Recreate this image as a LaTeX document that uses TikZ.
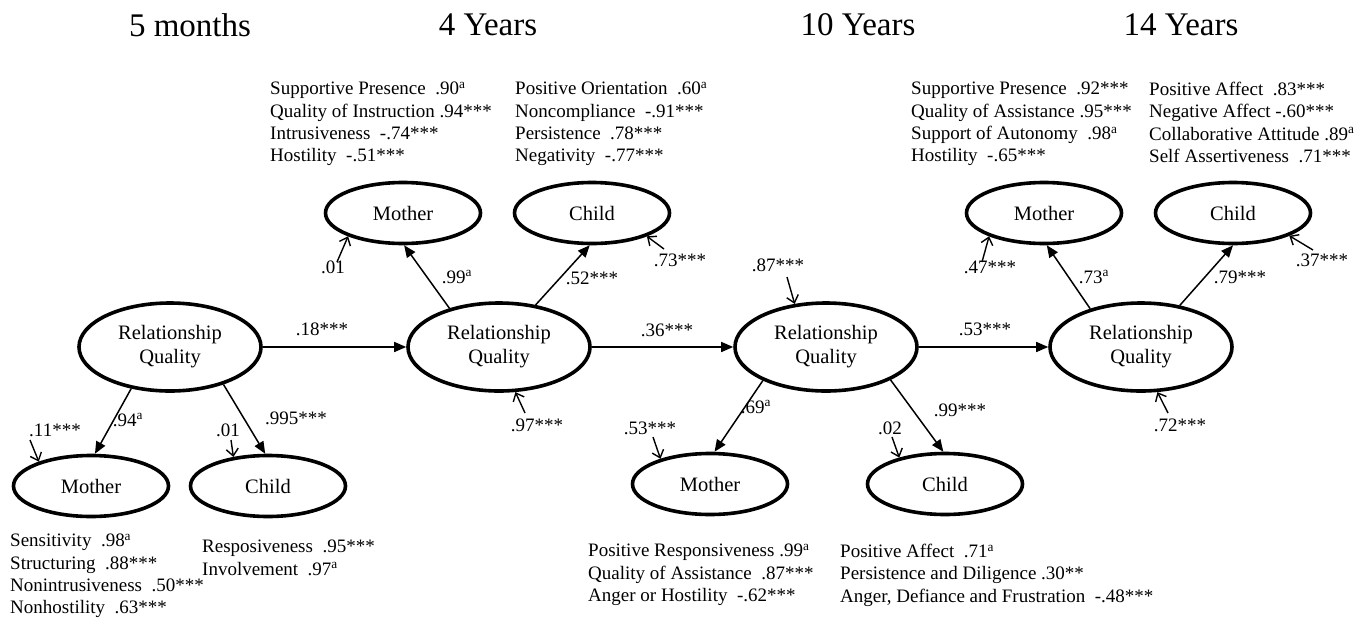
\documentclass[tikz,border=0pt]{standalone}
\usepackage{fontspec}
\setmainfont{Liberation Serif}
\usetikzlibrary{arrows.meta,shapes.geometric}
\tikzstyle{latentstyle}=[draw=black,ellipse,line width=3.6pt,inner sep=0pt,minimum width=182pt,minimum height=88pt,align=center,font=\fontsize{20.5}{24}\selectfont]
\tikzstyle{factorstyle}=[latentstyle,minimum width=155pt,minimum height=61pt]
\tikzstyle{pathstyle}=[-{Triangle[length=12pt,width=10pt]},line width=1.5pt]
\tikzstyle{errstyle}=[-{Straight Barb[length=7pt,width=12pt]},line width=1.4pt]
\tikzstyle{indstyle}=[anchor=north west,align=left,inner sep=0pt,font=\fontsize{19}{22.3}\selectfont]
\tikzstyle{coefstyle}=[inner sep=0pt,font=\fontsize{19}{22}\selectfont]
\tikzstyle{agestyle}=[inner sep=0pt,font=\fontsize{33}{40}\selectfont]

\begin{document}
\begin{tikzpicture}[x=1pt,y=-1pt]

      % keep the page the size of the original figure
      \useasboundingbox (0,0) rectangle (1368,624);

      % rows of the diagram
      \def\rqy{347}  % relationship quality row
      \def\topy{213} % mother/child row above
      \def\boty{486} % mother/child row below

      % age headings
      \node[agestyle] at (190,25) (a5) {5 months};
      \node[agestyle] at (488,25) (a4) {4 Years};
      \node[agestyle] at (858,25) (a10) {10 Years};
      \node[agestyle] at (1181,25) (a14) {14 Years};

      % relationship quality at each age
      \node[latentstyle] at (170,\rqy) (r5) {Relationship\\Quality};
      \node[latentstyle] at (499,\rqy) (r4) {Relationship\\Quality};
      \node[latentstyle] at (826,\rqy) (r10) {Relationship\\Quality};
      \node[latentstyle] at (1141,\rqy) (r14) {Relationship\\Quality};

      % mother and child factors
      \node[factorstyle] at (91,\boty) (m5) {Mother};
      \node[factorstyle] at (268,\boty) (c5) {Child};
      \node[factorstyle] at (403,\topy) (m4) {Mother};
      \node[factorstyle] at (592,\topy) (c4) {Child};
      \node[factorstyle] at (710,484) (m10) {Mother};
      \node[factorstyle] at (945,484) (c10) {Child};
      \node[factorstyle] at (1044,\topy) (m14) {Mother};
      \node[factorstyle] at (1233,\topy) (c14) {Child};

      % stability paths
      \draw[pathstyle] (r5.east) -- (r4.west);
      \draw[pathstyle] (r4.east) -- (r10.west);
      \draw[pathstyle] (r10.east) -- (r14.west);
      % loadings
      \draw[pathstyle] (r5.227) -- (m5.83);
      \draw[pathstyle] (r5.325) -- (c5.95);
      \draw[pathstyle] (r4.142) -- (m4.272);
      \draw[pathstyle] (r4.49) -- (c4.266);
      \draw[pathstyle] (r10.208) -- (m10.82);
      \draw[pathstyle] (r10.333) -- (c10.93);
      \draw[pathstyle] (r14.143) -- (m14.275);
      \draw[pathstyle] (r14.47) -- (c14.270);

      % residual arrows
      \coordinate (e5m) at (30,440);
      \coordinate (e5c) at (231,440);
      \coordinate (e4m) at (337,262);
      \coordinate (e4c) at (664,249);
      \coordinate (e4r) at (525,413);
      \coordinate (e10r) at (787,277);
      \coordinate (e10m) at (653,437);
      \coordinate (e10c) at (892,437);
      \coordinate (e14m) at (982,262);
      \coordinate (e14c) at (1313,250);
      \coordinate (e14r) at (1168,413);
      \draw[errstyle] (e5m) -- (m5.155);
      \draw[errstyle] (e5c) -- (c5.140);
      \draw[errstyle] (e4m) -- (m4.203);
      \draw[errstyle] (e4c) -- (c4.337);
      \draw[errstyle] (e4r) -- (r4.290);
      \draw[errstyle] (e10r) -- (r10.126);
      \draw[errstyle] (e10m) -- (m10.153);
      \draw[errstyle] (e10c) -- (c10.150);
      \draw[errstyle] (e14m) -- (m14.203);
      \draw[errstyle] (e14c) -- (c14.338);
      \draw[errstyle] (e14r) -- (r14.290);

      % coefficients
      \node[coefstyle] at (128,420) (k1) {.94\textsuperscript{a}};
      \node[coefstyle] at (296,418) (k2) {.995***};
      \node[coefstyle] at (55,430) (k3) {.11***};
      \node[coefstyle] at (228,430) (k4) {.01};
      \node[coefstyle] at (322,329) (k5) {.18***};
      \node[coefstyle] at (457,277) (k6) {.99\textsuperscript{a}};
      \node[coefstyle] at (592,278) (k7) {.52***};
      \node[coefstyle] at (333,267) (k8) {.01};
      \node[coefstyle] at (680,260) (k9) {.73***};
      \node[coefstyle] at (537,425) (k10) {.97***};
      \node[coefstyle] at (667,330) (k11) {.36***};
      \node[coefstyle] at (778,265) (k12) {.87***};
      \node[coefstyle] at (756,407) (k13) {.69\textsuperscript{a}};
      \node[coefstyle] at (960,410) (k14) {.99***};
      \node[coefstyle] at (650,428) (k15) {.53***};
      \node[coefstyle] at (890,428) (k16) {.02};
      \node[coefstyle] at (985,329) (k17) {.53***};
      \node[coefstyle] at (1094,277) (k18) {.73\textsuperscript{a}};
      \node[coefstyle] at (1240,277) (k19) {.79***};
      \node[coefstyle] at (990,267) (k20) {.47***};
      \node[coefstyle] at (1322,260) (k21) {.37***};
      \node[coefstyle] at (1180,425) (k22) {.72***};

      % indicator lists
      \node[indstyle] at (10,534) (i5m) {Sensitivity\ \ .98\textsuperscript{a}\\Structuring\ \ .88***\\Nonintrusiveness\ \ .50***\\Nonhostility\ \ .63***};
      \node[indstyle] at (202,540) (i5c) {Resposiveness\ \ .95***\\Involvement\ \ .97\textsuperscript{a}};
      \node[indstyle] at (270,82) (i4m) {Supportive Presence\ \ .90\textsuperscript{a}\\Quality of Instruction .94***\\Intrusiveness\ \ -.74***\\Hostility\ \ -.51***};
      \node[indstyle] at (515,82) (i4c) {Positive Orientation\ \ .60\textsuperscript{a}\\Noncompliance\ \ -.91***\\Persistence\ \ .78***\\Negativity\ \ -.77***};
      \node[indstyle] at (588,544) (i10m) {Positive Responsiveness .99\textsuperscript{a}\\Quality of Assistance\ \ .87***\\Anger or Hostility\ \ -.62***};
      \node[indstyle] at (840,544) (i10c) {Positive Affect\ \ .71\textsuperscript{a}\\Persistence and Diligence .30**\\Anger, Defiance and Frustration\ \ -.48***};
      \node[indstyle] at (911,82) (i14m) {Supportive Presence\ \ .92***\\Quality of Assistance .95***\\Support of Autonomy\ \ .98\textsuperscript{a}\\Hostility\ \ -.65***};
      \node[indstyle] at (1149,82) (i14c) {Positive Affect\ \ .83***\\Negative Affect -.60***\\Collaborative Attitude .89\textsuperscript{a}\\Self Assertiveness\ \ .71***};

\end{tikzpicture}
\end{document}
